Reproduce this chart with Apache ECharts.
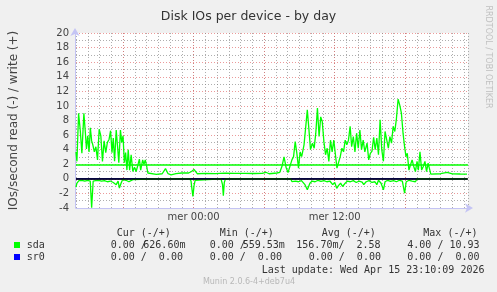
<!DOCTYPE html>
<html><head><meta charset="utf-8">
<script src="https://cdn.jsdelivr.net/npm/echarts@6/dist/echarts.min.js"></script>
<style>html,body{margin:0;padding:0;background:#f0f0f0;}#c{width:497px;height:292px;}</style>
</head><body><div id="c"></div>
<script>
// ---- data (hours relative to "mer 00:00", value in IOs/second) ----
const sdaWrite = [[-10.0,3.7],[-9.92,2.4],[-9.78,9.0],[-9.64,6.7],[-9.5,3.5],[-9.33,9.0],[-9.22,6.7],[-9.11,4.1],[-9.0,5.9],[-8.89,3.7],[-8.78,7.0],[-8.67,5.2],[-8.56,4.6],[-8.44,3.7],[-8.31,4.4],[-8.17,2.6],[-8.03,6.8],[-7.89,5.9],[-7.75,2.4],[-7.61,5.2],[-7.47,3.6],[-7.33,5.0],[-7.19,5.4],[-7.06,6.6],[-6.94,3.6],[-6.83,5.6],[-6.72,2.4],[-6.58,6.7],[-6.47,4.5],[-6.36,2.2],[-6.22,6.7],[-6.11,5.0],[-6.0,5.9],[-5.89,2.2],[-5.78,3.6],[-5.67,1.2],[-5.56,4.0],[-5.44,1.2],[-5.31,3.3],[-5.17,1.0],[-5.03,1.6],[-4.89,1.0],[-4.75,1.8],[-4.61,2.7],[-4.5,1.2],[-4.33,2.6],[-4.22,2.0],[-4.11,2.6],[-4.0,1.8],[-3.89,0.8],[-3.78,0.65],[-3.17,0.62],[-2.67,0.7],[-2.39,1.4],[-2.17,0.7],[-1.92,0.55],[-1.5,0.7],[-1.0,0.8],[-0.42,0.8],[-0.17,1.0],[0.03,1.3],[0.31,0.7],[1.0,0.75],[1.83,0.72],[2.67,0.78],[3.5,0.74],[4.33,0.76],[5.17,0.73],[5.83,0.75],[6.14,0.9],[6.42,0.7],[7.08,0.8],[7.33,0.9],[7.53,1.8],[7.69,3.0],[7.86,1.6],[8.03,0.85],[8.17,1.0],[8.36,2.6],[8.5,3.05],[8.64,5.1],[8.78,3.5],[8.92,1.46],[9.06,3.7],[9.19,3.05],[9.39,4.66],[9.53,4.4],[9.67,9.45],[9.81,6.7],[9.94,4.0],[10.11,4.9],[10.25,4.2],[10.39,6.26],[10.53,9.7],[10.67,5.8],[10.81,8.5],[10.94,7.85],[11.08,5.1],[11.22,3.3],[11.36,4.2],[11.5,2.4],[11.64,5.3],[11.78,3.7],[11.92,5.3],[12.06,3.3],[12.19,1.46],[12.33,1.7],[12.47,3.05],[12.61,4.2],[12.75,3.7],[12.89,5.3],[13.03,4.66],[13.17,5.3],[13.31,7.2],[13.44,4.4],[13.58,5.8],[13.72,3.7],[13.86,6.26],[14.0,4.2],[14.14,6.7],[14.28,4.0],[14.42,5.3],[14.56,3.7],[14.75,4.9],[14.89,2.6],[15.03,3.5],[15.17,3.8],[15.31,5.7],[15.44,4.0],[15.58,5.6],[15.72,3.3],[15.86,8.1],[16.0,4.0],[16.14,2.4],[16.28,6.5],[16.42,6.7],[16.56,4.2],[16.69,5.8],[16.83,4.9],[16.97,7.2],[17.11,6.5],[17.25,8.3],[17.39,10.93],[17.53,10.1],[17.67,9.0],[17.81,6.26],[17.94,4.4],[18.06,3.05],[18.17,3.5],[18.31,1.2],[18.44,1.9],[18.58,2.6],[18.72,1.7],[18.86,1.0],[19.0,2.4],[19.11,1.2],[19.25,3.7],[19.39,1.2],[19.53,1.7],[19.67,2.4],[19.81,1.0],[19.94,2.15],[20.08,2.4],[20.17,0.64],[21.0,0.7],[21.56,0.9],[22.0,0.68],[22.67,0.66],[23.25,0.65]];
const sdaRead = [[-10.0,1.14],[-9.92,0.6],[-9.75,0.25],[-9.5,0.2],[-9.25,0.3],[-9.0,0.2],[-8.79,0.3],[-8.67,3.95],[-8.54,0.3],[-8.33,0.25],[-8.08,0.2],[-7.83,0.3],[-7.58,0.25],[-7.33,0.4],[-7.08,0.3],[-6.83,0.5],[-6.58,0.8],[-6.42,0.3],[-6.31,1.28],[-6.17,0.6],[-6.03,0.1],[-5.75,0.2],[-5.5,0.4],[-5.33,0.6],[-5.17,0.1],[-5.0,0],[-3.08,0],[-3.0,0.2],[-2.92,0],[-0.33,0],[-0.22,0.3],[-0.17,1.0],[-0.06,2.4],[0.04,0.9],[0.13,0.2],[0.25,0],[2.33,0],[2.46,0.8],[2.53,2.3],[2.61,0.5],[2.71,0],[3.92,0],[4.0,0.2],[4.08,0],[8.25,0],[8.36,0.37],[8.5,0.6],[8.67,0.3],[8.92,0.4],[9.17,0.25],[9.47,0.8],[9.67,1.5],[9.89,0.6],[10.08,0.3],[10.33,0.4],[10.58,0.2],[10.83,0.35],[11.08,0.25],[11.33,0.4],[11.58,0.3],[11.83,0.8],[12.0,0.5],[12.17,1.3],[12.33,0.9],[12.5,0.6],[12.67,1.05],[12.89,0.6],[13.08,0.3],[13.33,0.4],[13.58,0.25],[13.83,0.5],[14.08,0.3],[14.33,0.45],[14.47,0.8],[14.67,0.4],[14.92,0.25],[15.17,0.5],[15.42,0.4],[15.58,0.8],[15.72,0.2],[15.94,0.6],[16.14,1.5],[16.28,0.4],[16.5,0.2],[16.75,0.35],[17.0,0.25],[17.25,0.4],[17.5,0.2],[17.75,0.3],[17.94,1.96],[18.08,0.4],[18.33,0.2],[18.58,0.3],[18.86,0.4],[19.0,0],[23.25,0]];
const sr0Write = [[-10.0,0],[23.25,0]];
const sr0Read = [[-10.0,0],[23.25,0]];
const thresholdValue = 2;
const xMin = -10, xMax = 23.333;
const yMin = -4, yMax = 20;
const majorHours = [-6, 0, 6, 12, 18];
const labelHours = [0, 12];
const labelTexts = ['mer 00:00', 'mer 12:00'];
const legendHeaders = ['Cur (-/+)', 'Min (-/+)', 'Avg (-/+)', 'Max (-/+)'];
const sdaStats = [['0.00 /', '626.60m'], ['0.00 /', '559.53m'], ['156.70m/  2.58'], ['4.00 / 10.93']];
const sr0Stats = ['0.00 /  0.00', '0.00 /  0.00', '0.00 /  0.00', '0.00 /  0.00'];

const GREEN = '#00ff00', BLUE = '#0000ff';
const MONO = '"DejaVu Sans Mono", monospace';
const SANS = '"DejaVu Sans", sans-serif';
const TXT = '#333';

const chart = echarts.init(document.getElementById('c'), null, {renderer: 'canvas'});

function t(text, x, y, opts) {
  opts = opts || {};
  return {type: 'text', x: x, y: y, rotation: opts.rotation || 0, silent: true,
    style: {text: text, x: 0, y: 0, font: opts.font || ('10px ' + MONO), fill: opts.fill || TXT,
      align: opts.align || 'left', verticalAlign: 'middle'}};
}

const graphics = [];
const hx = [116.7, 219.7, 321.7, 423.3];
legendHeaders.forEach((h, i) => graphics.push(t(h, hx[i], 233.5)));
graphics.push({type: 'rect', shape: {x: 14, y: 242, width: 6, height: 6}, style: {fill: GREEN}, silent: true});
graphics.push({type: 'rect', shape: {x: 14, y: 254, width: 6, height: 6}, style: {fill: BLUE}, silent: true});
graphics.push(t('sda', 26.7, 245.5));
graphics.push(t('sr0', 26.7, 257.7));
graphics.push(t(sdaStats[0][0], 110.7, 245.5));
graphics.push(t(sdaStats[0][1], 143.3, 245.5));
graphics.push(t(sdaStats[1][0], 209.7, 245.5));
graphics.push(t(sdaStats[1][1], 242.7, 245.5));
graphics.push(t(sdaStats[2][0], 296.3, 245.5));
graphics.push(t(sdaStats[3][0], 407.3, 245.5));
const sx = [110.7, 209.7, 308.7, 407.3];
sr0Stats.forEach((s, i) => graphics.push(t(s, sx[i], 257.7)));
graphics.push(t('Last update: Wed Apr 15 23:10:09 2026', 261.7, 270));
graphics.push(t('Munin 2.0.6-4+deb7u4', 249, 281.5, {font: '8px ' + SANS, fill: '#b8b8b8', align: 'center'}));
graphics.push(t('RRDTOOL / TOBI OETIKER', 488, 57, {font: '8px ' + SANS, fill: '#c0c0c0', align: 'center', rotation: -Math.PI / 2}));

const AXIS = '#c4c4f4';
const MINOR = {color: 'rgba(130,130,130,0.65)', type: [1, 2], width: 1};
const MAJOR = {color: 'rgba(225,100,100,0.65)', type: [1, 2], width: 1};

const option = {
  animation: false,
  backgroundColor: '#f0f0f0',
  title: {text: 'Disk IOs per device - by day', left: 'center', top: 5,
    textStyle: {fontFamily: SANS, fontSize: 12.5, fontWeight: 'normal', color: '#333'}},
  grid: {left: 68, top: 33, width: 400, height: 175, show: true, backgroundColor: '#ffffff', borderWidth: 0, containLabel: false},
  xAxis: {type: 'value', min: xMin, max: xMax, interval: 1,
    axisLine: {show: true, onZero: false, lineStyle: {color: AXIS, width: 1}, symbol: ['none', 'arrow'], symbolSize: [7, 8], symbolOffset: [0, 5]},
    axisTick: {show: false},
    splitLine: {show: true, lineStyle: MINOR},
    axisLabel: {show: true, margin: 4, color: '#444', fontFamily: SANS, fontSize: 10, showMinLabel: true, showMaxLabel: false,
      formatter: v => { const i = labelHours.indexOf(Math.round(v * 1000) / 1000); return i >= 0 ? labelTexts[i] : ''; }}
  },
  yAxis: {type: 'value', min: yMin, max: yMax, interval: 2, offset: 1,
    name: 'IOs/second read (-) / write (+)', nameLocation: 'middle', nameGap: 55,
    nameTextStyle: {fontFamily: SANS, fontSize: 12, color: '#444'},
    axisLine: {show: true, onZero: false, lineStyle: {color: AXIS, width: 1}, symbol: ['none', 'arrow'], symbolSize: [7, 8], symbolOffset: [0, 5]},
    axisTick: {show: false},
    minorTick: {show: false, splitNumber: 2},
    splitLine: {show: true, lineStyle: MAJOR},
    minorSplitLine: {show: true, lineStyle: MINOR},
    axisLabel: {margin: 6, color: '#444', fontFamily: SANS, fontSize: 10}
  },
  graphic: graphics,
  series: [
    {name: 'sr0 write', type: 'line', data: sr0Write, showSymbol: false, symbol: 'none', z: 2,
      lineStyle: {color: BLUE, width: 1},
      markLine: {silent: true, symbol: 'none', label: {show: false}, lineStyle: MAJOR, z: 1,
        data: majorHours.map(h => ({xAxis: h}))}},
    {name: 'sr0 read', type: 'line', data: sr0Read.map(p => [p[0], -p[1]]), showSymbol: false, symbol: 'none', z: 2,
      lineStyle: {color: BLUE, width: 1}},
    {name: 'sda read', type: 'line', data: sdaRead.map(p => [p[0], -p[1]]), showSymbol: false, symbol: 'none', z: 3,
      lineStyle: {color: GREEN, width: 1.3}},
    {name: 'sda write', type: 'line', data: sdaWrite, showSymbol: false, symbol: 'none', z: 3,
      lineStyle: {color: GREEN, width: 1.3},
      markLine: {silent: true, symbol: 'none', label: {show: false}, lineStyle: {color: GREEN, type: 'solid', width: 1.5},
        data: [{yAxis: thresholdValue}]}},
    {name: 'zero', type: 'line', data: [], z: 5,
      markLine: {silent: true, symbol: 'none', label: {show: false}, lineStyle: {color: '#000', type: 'solid', width: 1.5},
        data: [{yAxis: 0}]}}
  ]
};
chart.setOption(option);
</script></body></html>
